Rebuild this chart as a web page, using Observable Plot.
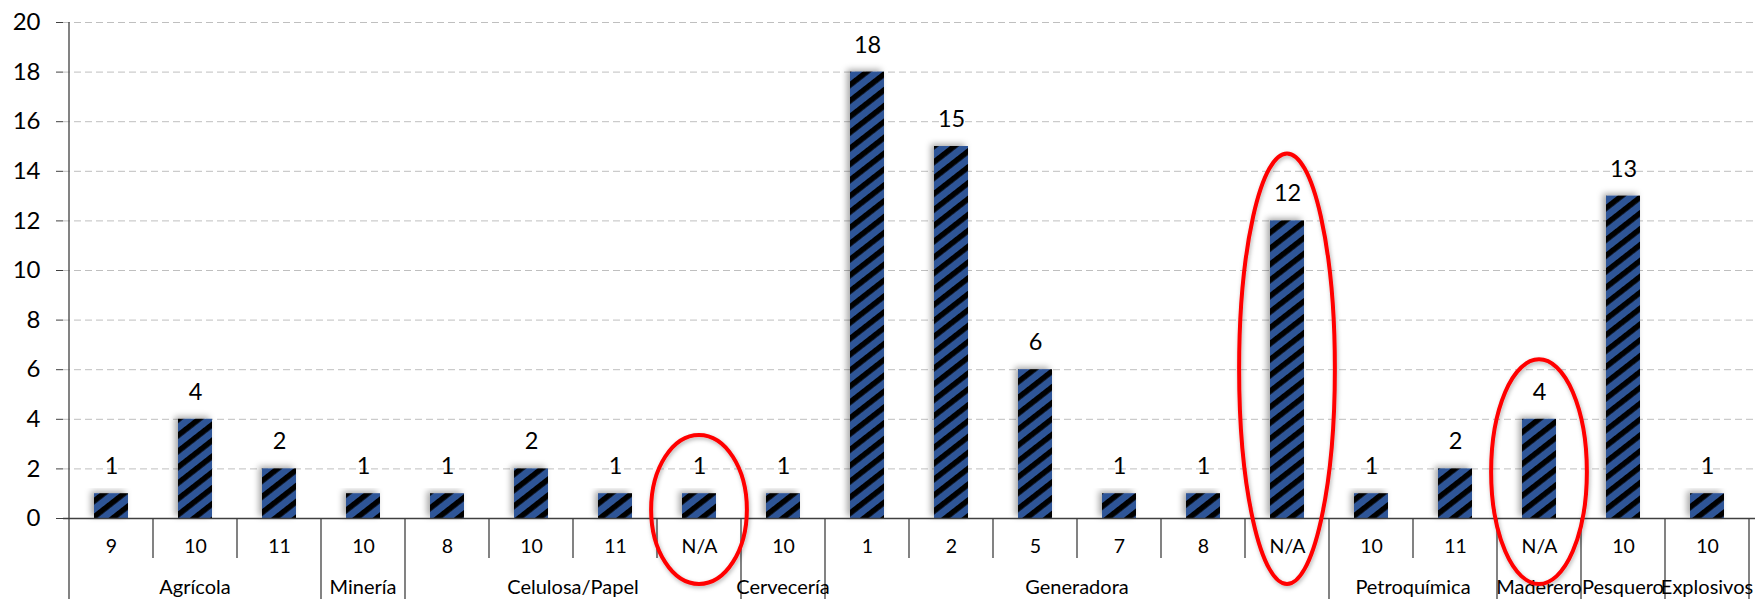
<!DOCTYPE html>
<html><head><meta charset="utf-8">
<script src="https://cdn.jsdelivr.net/npm/d3@7"></script>
<script src="https://cdn.jsdelivr.net/npm/@observablehq/plot@0.6"></script>
<style>html,body{margin:0;padding:0;background:#fff;} #chart{width:1760px;height:599px;overflow:hidden}</style>
</head><body><div id="chart"></div>
<script>
// ---- data ----
const sectors = ["Agrícola","Agrícola","Agrícola","Minería","Celulosa/Papel","Celulosa/Papel","Celulosa/Papel","Celulosa/Papel","Cervecería","Generadora","Generadora","Generadora","Generadora","Generadora","Generadora","Petroquímica","Petroquímica","Maderero","Pesquero","Explosivos"];
const subLabels = ["9","10","11","10","8","10","11","N/A","10","1","2","5","7","8","N/A","10","11","N/A","10","10"];
const values = [1,4,2,1,1,2,1,1,1,18,15,6,1,1,12,1,2,4,13,1];
const yTicks = [0,2,4,6,8,10,12,14,16,18,20];
// circled (highlighted) bars: index in the list and the value where the ellipse tops out
const circledIndex = [7, 14, 17];
const circledTop = [3.35, 14.7, 6.4];

const rows = values.map((v, i) => ({key: i + "|" + sectors[i] + "|" + subLabels[i], sector: sectors[i], sub: subLabels[i], value: v}));
const keys = rows.map(d => d.key);

const W = 1760, H = 599;
const chart = Plot.plot({
  width: W, height: H,
  marginTop: 22, marginBottom: 81, marginLeft: 63, marginRight: 5,
  style: {fontFamily: "Lato, 'Open Sans', sans-serif", background: "#fff", color: "#000", overflow: "visible"},
  x: {type: "band", domain: keys, paddingInner: 0.6, paddingOuter: 0.3, axis: null},
  y: {domain: [0, 20], axis: null},
  marks: [
    Plot.gridY(yTicks.slice(1), {stroke: "#BFBFBF", strokeOpacity: 1, strokeDasharray: "7,4"}),
    Plot.axisY(yTicks, {tickSize: 7, tickPadding: 16, fontSize: 24, stroke: "#404040", fill: "#000", label: null}),
    Plot.barY(rows, {x: "key", y: "value", fill: "url(#hatch)"}),
    Plot.ruleY([0], {stroke: "#404040", strokeWidth: 1.3}),
    Plot.text(rows, {x: "key", y: "value", text: d => String(d.value), dy: -27, fontSize: 23.5, fill: "#000"}),
    Plot.text(rows, {x: "key", y: () => 0, text: "sub", dy: 28, fontSize: 19.5, fill: "#000"})
  ]
});
document.getElementById("chart").appendChild(chart);

// ---- decorations using Plot's scales ----
const svg = d3.select(chart);
const defs = svg.insert("defs", ":first-child");
const P = 12.5;
const pat = defs.append("pattern").attr("id", "hatch").attr("patternUnits", "userSpaceOnUse")
  .attr("width", P).attr("height", P).attr("patternTransform", "rotate(52)");
pat.append("rect").attr("width", P).attr("height", P).attr("fill", "#2F5597");
pat.append("rect").attr("width", 5.5).attr("height", P).attr("fill", "#000");
const f = defs.append("filter").attr("id", "shadow").attr("x", "-50%").attr("y", "-20%").attr("width", "200%").attr("height", "140%");
f.append("feDropShadow").attr("dx", -3).attr("dy", -2).attr("stdDeviation", 3).attr("flood-color", "#000").attr("flood-opacity", 0.35);
const f2 = defs.append("filter").attr("id", "eshadow").attr("x", "-20%").attr("y", "-20%").attr("width", "140%").attr("height", "140%");
f2.append("feDropShadow").attr("dx", 1).attr("dy", 2).attr("stdDeviation", 2).attr("flood-color", "#000").attr("flood-opacity", 0.3);

svg.selectAll("g[aria-label='bar'] rect").attr("filter", "url(#shadow)");

const xs = chart.scale("x"), ys = chart.scale("y");
const bw = xs.bandwidth;
const step = xs.apply(keys[1]) - xs.apply(keys[0]);
const slotLeft = i => xs.apply(keys[i]) - (step - bw) / 2;
const y0 = ys.apply(0), yTop = ys.apply(20);
const n = keys.length;

const axisG = svg.append("g").attr("stroke", "#404040").attr("stroke-width", 1.3);
for (let i = 0; i <= n; i++) {
  const xb = i < n ? slotLeft(i) : slotLeft(n - 1) + step;
  const isGroup = i === 0 || i === n || sectors[i] !== sectors[i - 1];
  axisG.append("line")
    .attr("x1", xb).attr("x2", xb)
    .attr("y1", i === 0 ? yTop : y0)
    .attr("y2", isGroup ? H : y0 + 40);
}
// group labels
const labG = svg.append("g").attr("font-size", 20).attr("text-anchor", "middle").attr("fill", "#000");
let start = 0;
for (let i = 1; i <= n; i++) {
  if (i === n || sectors[i] !== sectors[start]) {
    const cx = (slotLeft(start) + slotLeft(i - 1) + step) / 2;
    labG.append("text").attr("x", cx).attr("y", y0 + 69).attr("dy", "0.35em").text(sectors[start]);
    start = i;
  }
}
// red ellipses
const eG = svg.append("g").attr("fill", "none").attr("stroke", "#FF0000").attr("stroke-width", 4).attr("filter", "url(#eshadow)");
circledIndex.forEach((idx, j) => {
  const cx = xs.apply(keys[idx]) + bw / 2;
  const top = ys.apply(circledTop[j]);
  const bottom = y0 + 66;
  eG.append("ellipse").attr("cx", cx).attr("cy", (top + bottom) / 2)
    .attr("rx", 0.57 * step).attr("ry", (bottom - top) / 2);
});
</script>
</body></html>
